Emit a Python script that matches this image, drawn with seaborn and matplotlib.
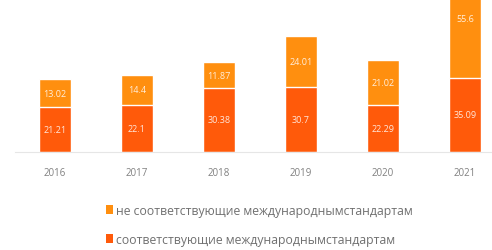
import numpy as np
import pandas as pd
import matplotlib
matplotlib.use("Agg")
import matplotlib.pyplot as plt
import seaborn as sns
from matplotlib.patches import Patch

sns.set_style("white")
plt.rcParams["font.family"] = ["Open Sans", "DejaVu Sans"]

# ------------------------------
# Data
# ------------------------------
years = ["2016", "2017", "2018", "2019", "2020", "2021"]
compliant = [21.21, 22.1, 30.38, 30.7, 22.29, 35.09]
non_compliant = [13.02, 14.4, 11.87, 24.01, 21.02, 55.6]
labels = ["не соответствующие международнымстандартам",
          "соответствующие международнымстандартам"]

c_top = "#FF8F0F"
c_bot = "#FF5A0A"

df = pd.DataFrame({"year": years, "comp": compliant, "non": non_compliant})
df["total"] = df["comp"] + df["non"]

fig = plt.figure(figsize=(4.92, 2.51), dpi=100)
ax = fig.add_axes([15 / 492, 1 - 153 / 251, 1 - 15 / 492, 153 / 251])

# totals first, then the lower part over them
sns.barplot(data=df, x="year", y="total", color=c_top, width=0.4,
            saturation=1, ax=ax)
sns.barplot(data=df, x="year", y="comp", color=c_bot, width=0.4,
            saturation=1, ax=ax)

for i, row in df.iterrows():
    ax.text(i, row["comp"] / 2, f"{row['comp']:.2f}".rstrip("0").rstrip("."),
            ha="center", va="center", color="white", fontsize=6.5, alpha=0.85)
    ax.text(i, row["comp"] + row["non"] / 2,
            f"{row['non']:.2f}".rstrip("0").rstrip("."),
            ha="center", va="center", color="white", fontsize=6.5, alpha=0.85)

ax.set_xlim(-(55 - 15) / 82, (492 - 55) / 82)
ax.set_ylim(0, 153 / 2.12)
ax.set_xlabel("")
ax.set_ylabel("")
ax.set_yticks([])
for s in ["top", "right", "left"]:
    ax.spines[s].set_visible(False)
ax.spines["bottom"].set_color("#e6e6e6")
ax.tick_params(axis="x", length=0, pad=11, labelsize=7, labelcolor="#808080")

handles = [Patch(facecolor=c_top, edgecolor="none"),
           Patch(facecolor=c_bot, edgecolor="none")]
fig.legend(handles, labels, loc="upper left", bbox_to_anchor=(101 / 492, 1 - 200 / 251),
           frameon=False, fontsize=8.8, labelcolor="#707070", handlelength=0.55,
           handleheight=0.75, handletextpad=0.3, labelspacing=1.3, borderaxespad=0)

fig.savefig("out.png", dpi=100)
